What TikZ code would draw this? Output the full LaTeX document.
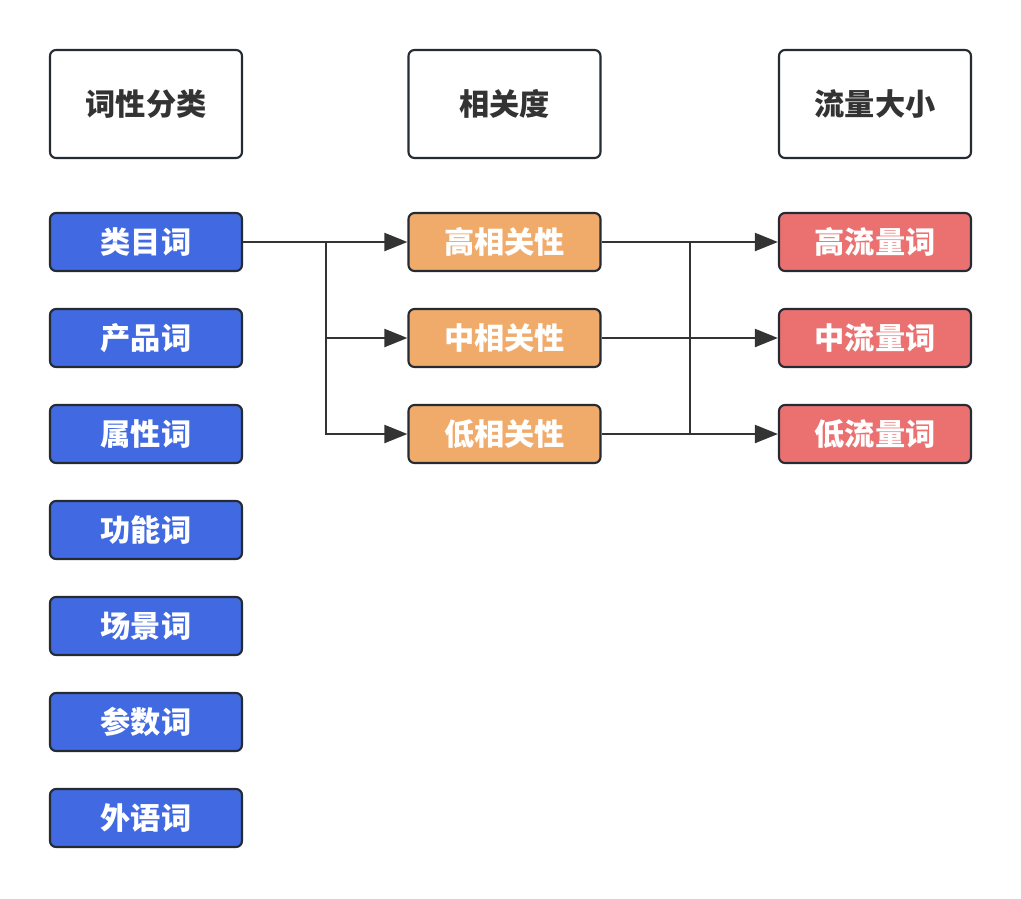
\documentclass[tikz,border=0pt]{standalone}
\usepackage{fontspec}
\newfontfamily\cjk{Noto Sans CJK SC}
\usepackage{tikz}
\usetikzlibrary{arrows.meta, positioning}

\definecolor{catblue}{HTML}{4169E1}
\definecolor{relorange}{HTML}{F0AA69}
\definecolor{flowred}{HTML}{EB7171}
\definecolor{edgegray}{HTML}{252B33}
\definecolor{linegray}{HTML}{333333}

\tikzset{
    box/.style={draw=edgegray, line width=1.5pt, rounded corners=0.15cm,
        minimum width=4.8cm, minimum height=1.45cm, inner sep=0pt,
        font=\cjk\bfseries\fontsize{21.5}{25}\selectfont},
    headbox/.style={box, fill=white, minimum height=2.7cm, text=linegray},
    catbox/.style={box, fill=catblue, text=white},
    relbox/.style={box, fill=relorange, text=white},
    flowbox/.style={box, fill=flowred, text=white},
    link/.style={draw=linegray, line width=1.8pt},
    arrowlink/.style={link, -{Triangle[length=0.58cm,width=0.45cm]}}
}

\begin{document}
\begin{tikzpicture}
    \useasboundingbox (0,0) rectangle (25.525,-22.45);

    % headers
    \node[headbox] (hcat) at (3.65,-2.6) {词性分类};
    \node[headbox] (hrel) at (12.6125,-2.6) {相关度};
    \node[headbox] (hflow) at (21.875,-2.6) {流量大小};

    % word categories
    \node[catbox] (c1) at (3.65,-6.05) {类目词};
    \node[catbox] (c2) at (3.65,-8.45) {产品词};
    \node[catbox] (c3) at (3.65,-10.85) {属性词};
    \node[catbox] (c4) at (3.65,-13.25) {功能词};
    \node[catbox] (c5) at (3.65,-15.65) {场景词};
    \node[catbox] (c6) at (3.65,-18.05) {参数词};
    \node[catbox] (c7) at (3.65,-20.45) {外语词};

    % relevance
    \node[relbox] (r1) at (12.6125,-6.05) {高相关性};
    \node[relbox] (r2) at (12.6125,-8.45) {中相关性};
    \node[relbox] (r3) at (12.6125,-10.85) {低相关性};

    % traffic
    \node[flowbox] (f1) at (21.875,-6.05) {高流量词};
    \node[flowbox] (f2) at (21.875,-8.45) {中流量词};
    \node[flowbox] (f3) at (21.875,-10.85) {低流量词};

    % connectors
    \coordinate (jl) at (8.15,-6.05);
    \coordinate (jrtop) at (17.25,-6.05);
    \coordinate (jrbot) at (17.25,-10.85);

    \draw[arrowlink] (c1.east) -- (r1.west);
    \draw[arrowlink] (jl) |- (r2.west);
    \draw[arrowlink] (jl) |- (r3.west);

    \draw[arrowlink] (r1.east) -- (f1.west);
    \draw[arrowlink] (r2.east) -- (f2.west);
    \draw[arrowlink] (r3.east) -- (f3.west);
    \draw[link] (jrtop) -- (jrbot);
\end{tikzpicture}
\end{document}
